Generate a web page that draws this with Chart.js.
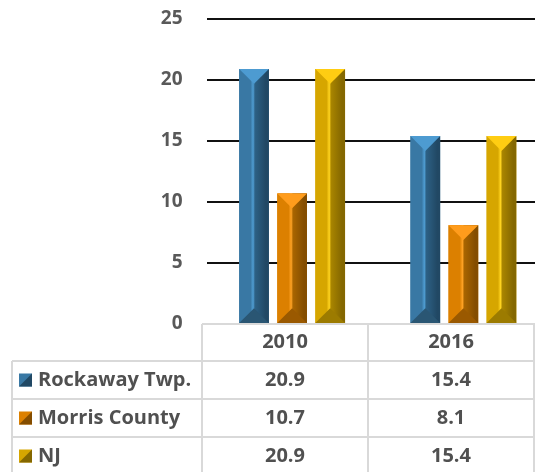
<!DOCTYPE html>
<html>
<head>
<meta charset="utf-8">
<script src="https://cdn.jsdelivr.net/npm/chart.js@4/dist/chart.umd.min.js"></script>
<style>
  html, body { margin: 0; padding: 0; background: #fff; overflow: hidden; width: 535px; height: 472px; }
  #c { display: block; }
</style>
</head>
<body>
<canvas id="c" width="549" height="472"></canvas>
<script>
const categories = ['2010', '2016'];
const seriesNames = ['Rockaway Twp.', 'Morris County', 'NJ'];
const rockawayValues = [20.9, 15.4];
const morrisValues = [10.7, 8.1];
const njValues = [20.9, 15.4];
const yMin = 0, yMax = 25, yStep = 5;

const palettes = [
  { left: '#3978a4', hi: '#4f9dd2', right: '#2d6185', dark: '#214864', top: '#4d9bd1', bottom: '#2a5673' },
  { left: '#dc8000', hi: '#ffa224', right: '#a96500', dark: '#844d00', top: '#ff9c1c', bottom: '#9a5900' },
  { left: '#d6a600', hi: '#ffd420', right: '#a98500', dark: '#846700', top: '#ffcd12', bottom: '#9c7b00' }
];

const FONT = "'Open Sans', 'Noto Sans', sans-serif";
const TEXT = '#505050';

const bevelPlugin = {
  id: 'bevel',
  afterDatasetsDraw(chart) {
    const ctx = chart.ctx;
    chart.data.datasets.forEach((ds, di) => {
      const meta = chart.getDatasetMeta(di);
      const p = palettes[di];
      meta.data.forEach(el => {
        const { x, y, base, width } = el.getProps(['x', 'y', 'base', 'width'], true);
        const L = x - width / 2, R = x + width / 2, T = Math.min(y, base), B = Math.max(y, base);
        const h = Math.min(width / 2, (B - T) / 2);
        ctx.save();
        const g = ctx.createLinearGradient(L, 0, R, 0);
        g.addColorStop(0, p.left);
        g.addColorStop(0.38, p.left);
        g.addColorStop(0.47, p.hi);
        g.addColorStop(0.53, p.right);
        g.addColorStop(0.9, p.dark);
        g.addColorStop(1, p.dark);
        ctx.fillStyle = g;
        ctx.fillRect(L, T, width, B - T);
        ctx.fillStyle = p.top;
        ctx.beginPath();
        ctx.moveTo(L, T); ctx.lineTo(R, T); ctx.lineTo(x, T + h); ctx.closePath();
        ctx.fill();
        ctx.fillStyle = p.bottom;
        ctx.beginPath();
        ctx.moveTo(L, B); ctx.lineTo(R, B); ctx.lineTo(x, B - h); ctx.closePath();
        ctx.fill();
        ctx.restore();
      });
    });
  }
};

const tablePlugin = {
  id: 'dataTable',
  afterDraw(chart) {
    const ctx = chart.ctx;
    const area = chart.chartArea;
    const top = area.bottom;
    const headerH = 37, rowH = 38;
    const colLeft = area.left - 4.5;
    const colW = 166;
    const tableLeft = 12;
    const rows = [rockawayValues, morrisValues, njValues];
    ctx.save();
    ctx.strokeStyle = '#d9d9d9';
    ctx.lineWidth = 2;
    const rightEdge = chart.width;
    ctx.beginPath();
    ctx.moveTo(colLeft, top); ctx.lineTo(rightEdge, top);
    for (let r = 0; r <= rows.length; r++) {
      const yy = top + headerH + r * rowH;
      ctx.moveTo(tableLeft, yy); ctx.lineTo(rightEdge, yy);
    }
    ctx.moveTo(tableLeft, top + headerH); ctx.lineTo(tableLeft, top + headerH + rows.length * rowH);
    for (let c = 0; c <= categories.length; c++) {
      const xx = colLeft + c * colW;
      ctx.moveTo(xx, top); ctx.lineTo(xx, top + headerH + rows.length * rowH);
    }
    ctx.stroke();

    ctx.fillStyle = TEXT;
    ctx.font = "bold 20px " + FONT;
    ctx.textBaseline = 'middle';
    ctx.textAlign = 'center';
    categories.forEach((cat, c) => {
      ctx.fillText(cat, colLeft + c * colW + colW / 2, top + headerH / 2);
    });
    rows.forEach((vals, r) => {
      const cy = top + headerH + r * rowH + rowH / 2;
      const p = palettes[r];
      const sx = 19, sy = cy - 6.5, s = 13;
      ctx.fillStyle = p.left;
      ctx.fillRect(sx, sy, s, s);
      ctx.fillStyle = p.dark;
      ctx.beginPath();
      ctx.moveTo(sx + s, sy); ctx.lineTo(sx + s, sy + s); ctx.lineTo(sx, sy + s); ctx.closePath();
      ctx.fill();
      ctx.fillStyle = TEXT;
      ctx.textAlign = 'left';
      ctx.fillText(seriesNames[r], 38, cy);
      ctx.textAlign = 'center';
      vals.forEach((v, c) => {
        ctx.fillText(v.toFixed(1), colLeft + c * colW + colW / 2, cy);
      });
    });
    ctx.restore();
  }
};

new Chart(document.getElementById('c'), {
  type: 'bar',
  data: {
    labels: categories,
    datasets: [
      { label: seriesNames[0], data: rockawayValues, backgroundColor: palettes[0].left },
      { label: seriesNames[1], data: morrisValues, backgroundColor: palettes[1].left },
      { label: seriesNames[2], data: njValues, backgroundColor: palettes[2].left }
    ]
  },
  options: {
    responsive: false,
    animation: false,
    devicePixelRatio: 1,
    layout: { padding: { top: 19, bottom: 148, left: 0, right: 0 } },
    plugins: { legend: { display: false }, tooltip: { enabled: false } },
    datasets: { bar: { categoryPercentage: 0.667, barPercentage: 0.78 } },
    scales: {
      x: { display: false },
      y: {
        min: yMin, max: yMax,
        ticks: { stepSize: yStep, padding: 0, color: '#595959', font: { family: FONT, size: 19, weight: 'bold' } },
        grid: {
          drawTicks: true,
          tickLength: 24,
          tickColor: 'rgba(0,0,0,0)',
          lineWidth: 2,
          color: c => (c.tick && c.tick.value === 0) ? 'rgba(0,0,0,0)' : '#111'
        },
        border: { display: false },
        afterFit(scale) { scale.width = 206.5; }
      }
    }
  },
  plugins: [bevelPlugin, tablePlugin]
});
</script>
</body>
</html>
